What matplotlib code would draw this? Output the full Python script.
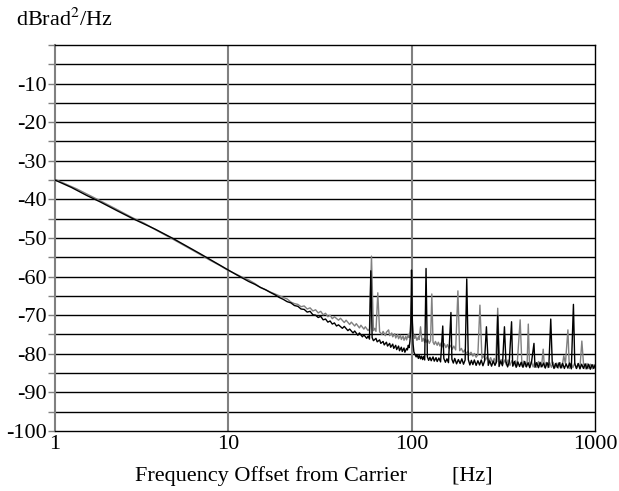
import numpy as np
import matplotlib
matplotlib.use("Agg")
import matplotlib.pyplot as plt

plt.rcParams['font.family'] = ['Liberation Serif', 'DejaVu Serif']
plt.rcParams['mathtext.fontset'] = 'stix'

# Trace 1 (black): baseline with noise, then the spurs
black_freq = [1.14, 1.4, 1.7, 2.0, 2.5, 3.0, 3.5, 4.0, 5.0, 6.0, 7.0, 8.0, 9.0,
              10, 11, 12, 13, 14, 15, 16, 17, 18, 19, 20, 21, 22, 23, 24, 25, 26,
              27, 28, 29, 30, 31, 32, 33, 34, 35, 36, 37, 38, 39, 40, 42, 43, 45,
              46, 48, 49, 51, 52, 54, 55, 57, 58, 59, 61, 62, 64, 65, 67, 68, 70,
              71, 73, 74, 76, 77, 79, 80, 82, 83, 85, 86, 88, 89, 91, 92, 94, 95,
              96, 97, 98, 99, 101, 102, 103, 104, 106, 107, 109, 110, 112, 113,
              115, 116, 118, 122, 124, 126, 128, 131, 133, 136, 138, 141, 144,
              150, 153, 156, 159, 166, 169, 172, 176, 180, 184, 188, 192, 196,
              204, 208, 212, 216, 220, 225, 230, 235, 240, 245, 250, 262, 267,
              273, 279, 285, 291, 300, 306, 313, 327, 334, 341, 356, 364, 372,
              380, 388, 396, 405, 414, 423, 432, 441, 451, 471, 481, 492, 502,
              513, 524, 536, 548, 560, 585, 598, 611, 624, 638, 652, 666, 681,
              696, 711, 727, 743, 776, 793, 810, 828, 846, 865, 884, 903, 923,
              943, 964, 985, 1000]
black_db = [-35.0, -36.9, -39.0, -40.6, -43.0, -44.9, -46.4, -47.7, -50.1, -52.2,
            -54.0, -55.6, -57.0, -58.3, -59.4, -60.4, -61.3, -62.0, -62.8, -63.4,
            -64.1, -64.7, -65.4, -65.9, -66.5, -66.8, -67.5, -67.7, -68.4, -68.5,
            -69.2, -69.0, -69.9, -70.0, -70.6, -70.3, -71.2, -71.0, -71.8, -71.5,
            -72.3, -72.0, -72.8, -72.5, -73.4, -72.9, -74.0, -73.6, -74.6, -74.1,
            -75.2, -74.6, -75.6, -75.1, -76.0, -75.4, -76.2, -75.8, -76.6, -76.0,
            -76.9, -76.4, -77.3, -76.8, -77.7, -77.0, -78.0, -77.3, -78.3, -77.5,
            -78.6, -77.8, -78.9, -78.0, -79.2, -78.3, -79.4, -78.5, -79.6, -78.6,
            -79.0, -77.8, -78.4, -76.8, -74.0, -72.0, -77.5, -79.5, -80.0, -80.8,
            -80.2, -81.2, -80.4, -81.3, -80.6, -81.5, -80.7, -81.6, -80.8, -81.7,
            -80.9, -81.8, -80.8, -81.9, -81.0, -82.0, -81.1, -82.1, -81.2, -82.2,
            -81.3, -82.3, -81.4, -82.4, -81.2, -82.6, -81.5, -82.5, -81.3, -82.7,
            -81.6, -81.5, -82.9, -81.7, -82.8, -81.6, -83.0, -81.8, -82.9, -81.6,
            -83.1, -81.9, -83.0, -81.8, -83.2, -81.9, -83.0, -82.0, -83.3, -81.9,
            -83.1, -82.0, -83.4, -82.1, -83.2, -82.0, -83.5, -82.1, -83.3, -82.2,
            -83.5, -82.0, -83.4, -82.3, -83.6, -82.1, -83.5, -82.3, -83.6, -82.2,
            -83.4, -82.4, -83.7, -82.3, -83.5, -82.4, -83.8, -82.5, -83.6, -82.3,
            -83.7, -82.5, -83.8, -82.6, -83.7, -82.4, -83.9, -82.6, -83.8, -82.5,
            -83.9, -82.7, -83.8, -82.6, -83.9, -82.7, -84.0, -82.8, -83.8, -83.0]
black_spur_freq = [60, 99.6, 100, 100.5, 120, 148, 164, 200, 256, 295, 321, 351,
                   465, 574, 763]
black_spur_db = [-58.5, -66.0, -58.3, -63.0, -57.9, -72.8, -69.3, -60.6, -73.0,
                 -70.0, -73.0, -71.7, -77.3, -71.0, -67.2]

# Trace 2 (gray)
gray_freq = [1.14, 1.5, 2.0, 2.5, 3.0, 3.5, 4.0, 5.0, 6.0, 7.0, 8.0, 9.0, 10, 11,
             12, 13, 14, 15, 16, 17, 18, 19, 20, 21, 22, 23, 24, 25, 26, 27, 28,
             29, 30, 31, 32, 33, 34, 35, 36, 37, 38, 40, 41, 43, 44, 46, 47, 49,
             50, 52, 53, 55, 56, 58, 59, 62, 63, 64, 67, 69, 70, 72, 73, 75, 76,
             78, 79, 81, 82, 84, 85, 87, 88, 90, 91, 93, 94, 96, 97, 98, 99, 101,
             102, 104, 105, 107, 109, 110, 114, 116, 118, 119, 121, 123, 125, 127,
             131, 133, 135, 138, 140, 143, 145, 148, 151, 154, 157, 160, 163, 167,
             170, 174, 183, 187, 191, 195, 199, 203, 207, 211, 216, 220, 225, 230,
             242, 247, 253, 258, 264, 270, 276, 282, 288, 302, 308, 315, 322, 329,
             336, 344, 352, 360, 368, 376, 400, 409, 418, 427, 440, 450, 460, 470,
             481, 492, 503, 514, 530, 542, 554, 566, 579, 592, 605, 619, 633, 647,
             661, 690, 725, 741, 758, 775, 792, 810, 828, 866, 885, 905, 925, 946,
             967, 989, 1000]
gray_db = [-34.8, -37.3, -40.3, -42.7, -44.7, -46.2, -47.8, -50.3, -52.4, -54.2,
           -55.8, -57.1, -58.4, -59.3, -60.2, -60.9, -61.8, -62.8, -63.4, -64.0,
           -64.5, -65.0, -65.4, -65.8, -66.6, -67.0, -67.2, -67.8, -67.6, -68.4,
           -68.1, -68.9, -68.6, -69.4, -69.0, -69.9, -69.5, -70.4, -70.0, -70.9,
           -70.4, -71.3, -70.8, -71.9, -71.3, -72.4, -71.8, -72.8, -72.2, -73.3,
           -72.6, -73.6, -73.0, -74.0, -73.5, -74.0, -73.4, -74.2, -74.3, -75.0,
           -74.2, -75.3, -74.4, -73.8, -75.3, -74.6, -75.6, -74.8, -75.9, -75.0,
           -76.1, -75.2, -76.3, -75.4, -76.5, -75.5, -76.4, -75.0, -75.8, -74.2,
           -72.0, -71.0, -74.5, -76.0, -75.2, -76.5, -75.6, -76.3, -76.8, -76.0,
           -77.1, -76.2, -77.0, -76.4, -77.3, -76.6, -77.0, -77.6, -76.8, -77.8,
           -77.0, -78.0, -77.2, -78.2, -77.4, -78.4, -77.6, -78.6, -77.8, -78.8,
           -78.0, -79.0, -79.2, -78.6, -79.6, -79.0, -80.0, -79.3, -80.3, -79.6,
           -80.6, -79.9, -80.9, -80.2, -81.2, -80.5, -81.6, -80.8, -81.9, -81.0,
           -82.2, -81.2, -82.4, -82.5, -81.5, -82.7, -81.6, -82.9, -81.6, -83.0,
           -81.8, -83.1, -81.8, -83.2, -83.2, -81.9, -83.3, -82.0, -83.4, -82.0,
           -83.4, -82.1, -83.5, -82.0, -83.4, -82.2, -83.5, -82.2, -83.6, -82.3,
           -83.5, -82.2, -83.6, -82.4, -83.7, -82.3, -83.6, -82.5, -83.8, -82.5,
           -83.6, -82.4, -83.8, -82.6, -83.7, -82.6, -83.9, -82.5, -83.8, -82.7,
           -83.9, -82.8, -83.3]
gray_spur_freq = [60.5, 65.5, 100, 112, 129, 179, 236, 295, 391, 433, 522, 676,
                  712, 848]
gray_spur_db = [-54.7, -64.2, -65.0, -73.0, -64.5, -63.7, -67.4, -68.2, -71.2,
                -72.3, -78.8, -80.5, -73.8, -76.7]

y_ticks = [-10, -20, -30, -40, -50, -60, -70, -80, -90, -100]
x_tick_labels = ['1', '10', '100', '1000']


def merge(f, d, sf, sd):
    f = np.array(f + sf, dtype=float)
    d = np.array(d + sd, dtype=float)
    order = np.argsort(f)
    return f[order], d[order]


fig = plt.figure(figsize=(6.19, 4.91), dpi=100)
ax = fig.add_axes([0.0889, 0.1222, 0.8723, 0.7862])

gf, gd = merge(gray_freq, gray_db, gray_spur_freq, gray_spur_db)
bf, bd = merge(black_freq, black_db, black_spur_freq, black_spur_db)
ax.plot(gf, gd, color='#808080', lw=1.0, zorder=3)
ax.plot(bf, bd, color='black', lw=1.0, zorder=4)

ax.set_xscale('log')
ax.set_xlim(1.14, 1000)
ax.set_ylim(-100, 0)

# grid: black every 5 dB, gray decades
for y in range(-95, 0, 5):
    ax.axhline(y, color='black', lw=1.0, zorder=1)
for x in [10, 100]:
    ax.axvline(x, color='#808080', lw=1.5, zorder=2)

ax.set_xticks([1.14, 10, 100, 1000], x_tick_labels)
ax.xaxis.set_minor_locator(matplotlib.ticker.NullLocator())
ax.tick_params(axis='x', length=0, labelsize=16, pad=3)
ax.set_yticks(range(-100, 1, 5), minor=False)
ax.set_yticklabels(['' if v % 10 or v == 0 else str(v) for v in range(-100, 1, 5)])
ax.tick_params(axis='y', length=5, width=1, color='#808080', labelsize=16, pad=1)
for lab in ax.get_yticklabels():
    lab.set_verticalalignment('center_baseline')

ax.spines['left'].set_color('#808080')
ax.spines['left'].set_linewidth(1.5)
for s in ['top', 'right', 'bottom']:
    ax.spines[s].set_linewidth(1.0)

fig.text(0.026, 0.959, 'dBrad$^2$/Hz', fontsize=16, va='center', ha='left')
fig.text(0.507, 0.031, 'Frequency Offset from Carrier        [Hz]',
         fontsize=16, ha='center', va='center')

fig.savefig('out.png', dpi=100)
